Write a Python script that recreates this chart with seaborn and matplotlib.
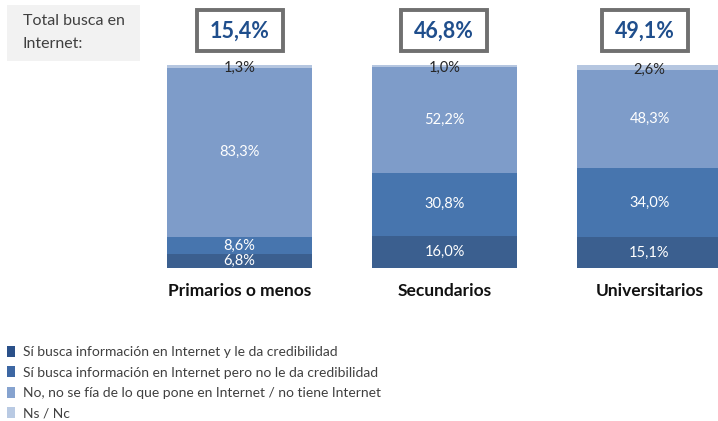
import matplotlib
matplotlib.use("Agg")
import matplotlib.pyplot as plt
from matplotlib.patches import Rectangle, Patch
import seaborn as sns
import pandas as pd
import numpy as np

categories = ["Primarios o menos", "Secundarios", "Universitarios"]
si_cred = [6.8, 16.0, 15.1]
si_nocred = [8.6, 30.8, 34.0]
no_fia = [83.3, 52.2, 48.3]
ns_nc = [1.3, 1.0, 2.6]
totals = ["15,4%", "46,8%", "49,1%"]
series_names = [
    "Sí busca información en Internet y le da credibilidad",
    "Sí busca información en Internet pero no le da credibilidad",
    "No, no se fía de lo que pone en Internet / no tiene Internet",
    "Ns / Nc",
]
colors = ["#3b5f8f", "#4775ae", "#7e9cc9", "#b5c6e0"]
legend_colors = ["#2a5089", "#3d67a3", "#86a3cf", "#b9cae3"]
label_colors = ["white", "white", "white", "#262626"]

sns.set_theme(style="white")
plt.rcParams["font.family"] = ["Lato", "DejaVu Sans"]

series = [si_cred, si_nocred, no_fia, ns_nc]
cum = np.zeros(len(categories))
cums = []
for s in series:
    cum = cum + np.array(s)
    cums.append(cum.copy())

fig = plt.figure(figsize=(7.18, 4.21), dpi=100)
H = 421.0
W = 718.0
ax = fig.add_axes([0, (H - 268) / H, 1, (268 - 65) / H])

bw = 145 / 205
for i in range(len(series) - 1, -1, -1):
    d = pd.DataFrame({"cat": categories, "val": cums[i]})
    sns.barplot(data=d, x="cat", y="val", color=colors[i], width=bw,
                saturation=1, ax=ax, order=categories, edgecolor="none")

# labels
for i, s in enumerate(series):
    for j, v in enumerate(s):
        center = cums[i][j] - v / 2
        if i == len(series) - 1:
            center -= 1.0
        txt = f"{v:.1f}".replace(".", ",") + "%"
        ax.text(j, center, txt, ha="center", va="center", fontsize=10.5,
                color=label_colors[i])

x0 = -239.5 / 205
x1 = (W - 239.5) / 205
ax.set_xlim(x0, x1)
ax.set_ylim(0, 100)
ax.set_yticks([])
ax.set_ylabel("")
ax.set_xlabel("")
sns.despine(ax=ax, left=True, bottom=True)
ax.tick_params(axis="x", length=0, pad=11)
for lab in ax.get_xticklabels():
    lab.set_fontweight("bold")
    lab.set_fontsize(12.5)
    lab.set_color("#111111")

# total boxes
centers_px = [240, 444, 645]
for cx, t in zip(centers_px, totals):
    bx = (cx - 43) / W
    by = (H - 51) / H
    fig.patches.append(Rectangle((bx, by), 86 / W, 41 / H, transform=fig.transFigure,
                                 facecolor="white", edgecolor="#707070", linewidth=2.8))
    fig.text(cx / W, (H - 31) / H, t, ha="center", va="center", fontsize=15.5,
             fontweight="bold", color="#1f4e8c")

# total label box
fig.patches.append(Rectangle((7 / W, (H - 61) / H), 133 / W, 56 / H, transform=fig.transFigure,
                             facecolor="#f2f2f2", edgecolor="none"))
fig.text(23 / W, (H - 21) / H, "Total busca en", ha="left", va="center", fontsize=11.5, color="#404040")
fig.text(23 / W, (H - 44) / H, "Internet:", ha="left", va="center", fontsize=11.5, color="#404040")

handles = [Patch(facecolor=c, edgecolor="none") for c in legend_colors]
fig.legend(handles, series_names, loc="upper left", bbox_to_anchor=(7 / W, (H - 346) / H),
           frameon=False, fontsize=10, handlelength=0.6, handleheight=0.8, handletextpad=0.55,
           labelspacing=0.6, borderpad=0, borderaxespad=0, labelcolor="#404040")

fig.savefig("out.png", dpi=100)
